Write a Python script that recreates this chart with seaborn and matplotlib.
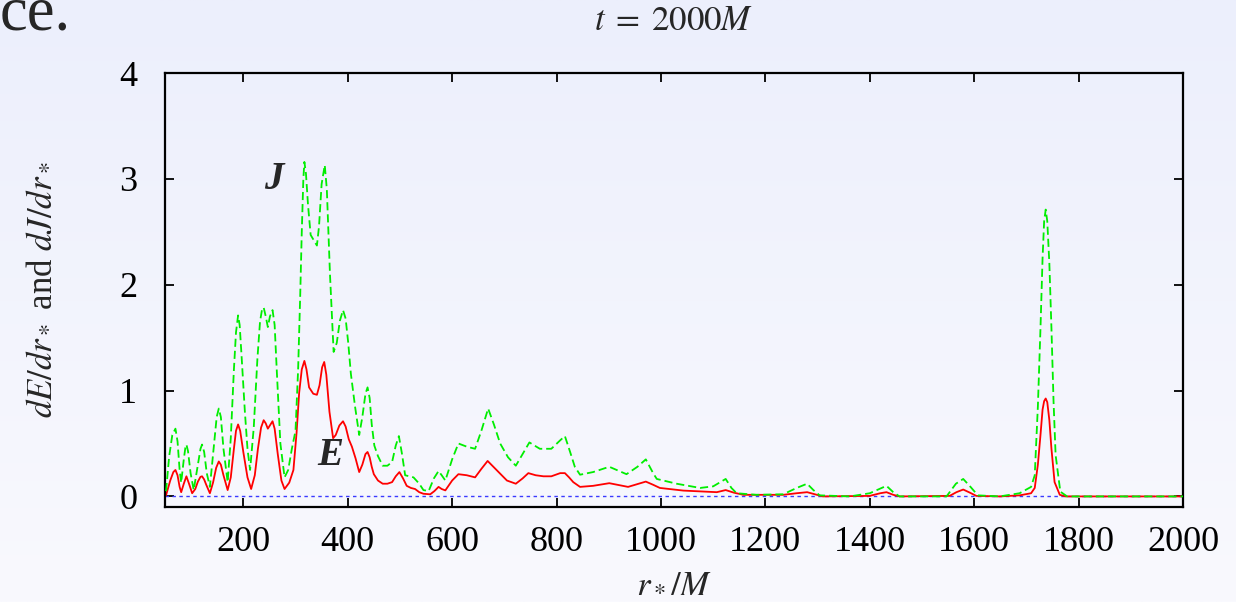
import numpy as np
import matplotlib
matplotlib.use("Agg")
import matplotlib.pyplot as plt
import seaborn as sns

# Energy flux dE/dr* sampled along r*/M
r_E = [52, 60, 66, 70, 74, 78, 81, 86, 91, 96, 102, 108, 113, 118, 121, 125, 129,
       136, 142, 148, 153, 157, 162, 170, 176, 182, 186, 190, 194, 200, 208, 215,
       222, 228, 234, 239, 243, 247, 252, 256, 260, 266, 273, 279, 288, 296, 302,
       307, 312, 317, 321, 326, 334, 341, 346, 351, 355, 359, 365, 372, 377, 384,
       391, 396, 402, 408, 415, 422, 428, 434, 438, 442, 446, 450, 458, 467, 476,
       485, 492, 499, 506, 513, 521, 529, 537, 545, 558, 566, 574, 580, 587, 600,
       612, 628, 644, 656, 668, 685, 705, 722, 735, 746, 760, 775, 790, 807, 816,
       824, 832, 845, 870, 901, 937, 971, 985, 998, 1043, 1107, 1124, 1140, 1158,
       1234, 1260, 1280, 1295, 1310, 1400, 1420, 1432, 1445, 1457, 1553, 1566, 1579,
       1592, 1604, 1649, 1687, 1709, 1716, 1722, 1727, 1731, 1734, 1737, 1740, 1744,
       1748, 1754, 1764, 1775, 2000]
dE = [0.01, 0.15, 0.23, 0.25, 0.20, 0.09, 0.04, 0.12, 0.19, 0.12, 0.03, 0.07, 0.14,
      0.185, 0.19, 0.16, 0.11, 0.03, 0.13, 0.27, 0.33, 0.30, 0.20, 0.06, 0.18, 0.45,
      0.62, 0.68, 0.62, 0.42, 0.18, 0.07, 0.20, 0.45, 0.65, 0.72, 0.69, 0.64, 0.68,
      0.71, 0.64, 0.40, 0.15, 0.07, 0.13, 0.25, 0.60, 0.98, 1.20, 1.28, 1.20, 1.03,
      0.97, 0.96, 1.05, 1.22, 1.27, 1.15, 0.80, 0.55, 0.58, 0.67, 0.71, 0.66, 0.54,
      0.47, 0.36, 0.23, 0.30, 0.40, 0.42, 0.37, 0.28, 0.21, 0.15, 0.12, 0.12, 0.135,
      0.19, 0.23, 0.17, 0.10, 0.08, 0.07, 0.04, 0.025, 0.02, 0.05, 0.09, 0.07, 0.057,
      0.15, 0.21, 0.20, 0.18, 0.26, 0.335, 0.25, 0.15, 0.12, 0.17, 0.22, 0.20, 0.19,
      0.19, 0.22, 0.22, 0.18, 0.135, 0.09, 0.10, 0.125, 0.09, 0.14, 0.11, 0.08, 0.055,
      0.04, 0.06, 0.035, 0.015, 0.015, 0.03, 0.04, 0.02, 0.0, 0.005, 0.03, 0.04, 0.015,
      0.0, 0.005, 0.04, 0.065, 0.035, 0.005, 0.0, 0.01, 0.03, 0.08, 0.30, 0.58, 0.82,
      0.90, 0.925, 0.89, 0.72, 0.45, 0.135, 0.015, 0.0, 0.0]

# Angular momentum flux dJ/dr* sampled along r*/M
r_J = [52, 58, 64, 70, 74, 78, 81, 86, 89, 91, 94, 99, 105, 113, 118, 121, 125, 130,
       136, 143, 149, 153, 157, 162, 170, 176, 182, 186, 190, 193, 197, 203, 208, 213,
       220, 227, 232, 236, 239, 243, 247, 251, 256, 260, 264, 271, 279, 286, 293, 300,
       305, 309, 312, 315, 317, 320, 324, 329, 335, 341, 345, 350, 356, 360, 366, 373,
       379, 385, 391, 396, 401, 406, 414, 422, 428, 434, 438, 442, 446, 451, 458, 467,
       476, 485, 492, 498, 504, 510, 526, 537, 545, 555, 565, 574, 580, 587, 600, 612,
       628, 644, 656, 669, 680, 692, 707, 722, 735, 748, 768, 790, 807, 816, 826, 835,
       845, 870, 901, 934, 955, 971, 985, 992, 1030, 1075, 1100, 1124, 1135, 1145,
       1183, 1234, 1260, 1280, 1292, 1304, 1362, 1400, 1432, 1445, 1457, 1547, 1565,
       1579, 1593, 1607, 1649, 1687, 1709, 1716, 1722, 1727, 1731, 1734, 1737, 1740,
       1744, 1748, 1752, 1756, 1765, 1778, 2000]
dJ = [0.05, 0.38, 0.58, 0.64, 0.52, 0.25, 0.13, 0.35, 0.46, 0.49, 0.43, 0.22, 0.06,
      0.30, 0.45, 0.49, 0.42, 0.22, 0.09, 0.45, 0.75, 0.83, 0.75, 0.45, 0.135, 0.55,
      1.20, 1.55, 1.71, 1.62, 1.30, 0.80, 0.45, 0.25, 0.65, 1.30, 1.65, 1.77, 1.785,
      1.70, 1.60, 1.70, 1.76, 1.62, 1.20, 0.50, 0.18, 0.25, 0.45, 0.62, 1.20, 1.90,
      2.50, 3.00, 3.16, 3.05, 2.75, 2.47, 2.42, 2.37, 2.55, 2.95, 3.13, 2.90, 2.10,
      1.365, 1.45, 1.66, 1.76, 1.68, 1.45, 1.16, 0.85, 0.58, 0.75, 0.97, 1.03, 0.93,
      0.68, 0.48, 0.38, 0.29, 0.29, 0.325, 0.48, 0.57, 0.40, 0.20, 0.18, 0.12, 0.06,
      0.05, 0.17, 0.24, 0.20, 0.15, 0.35, 0.50, 0.47, 0.45, 0.62, 0.83, 0.68, 0.50,
      0.37, 0.29, 0.40, 0.51, 0.45, 0.45, 0.53, 0.57, 0.42, 0.28, 0.205, 0.23, 0.28,
      0.21, 0.28, 0.35, 0.22, 0.165, 0.12, 0.08, 0.095, 0.165, 0.08, 0.03, 0.015,
      0.02, 0.08, 0.12, 0.06, 0.01, 0.0, 0.03, 0.10, 0.04, 0.0, 0.0, 0.12, 0.165,
      0.09, 0.01, 0.0, 0.03, 0.09, 0.20, 0.85, 1.59, 2.25, 2.60, 2.71, 2.60, 2.20,
      1.59, 0.90, 0.39, 0.045, 0.0, 0.0]

zero_level = 0.0
x_ticks = [200, 400, 600, 800, 1000, 1200, 1400, 1600, 1800, 2000]
y_ticks = [0, 1, 2, 3, 4]

sns.set_style("ticks")
plt.rcParams["font.family"] = ["Liberation Serif", "DejaVu Serif"]
plt.rcParams["mathtext.fontset"] = "stix"

W, H = 1236, 602
fig = plt.figure(figsize=(W / 100, H / 100), dpi=100)

# soft lavender page background
bg = fig.add_axes([0, 0, 1, 1], zorder=-1)
top_c = np.array([236, 239, 252]) / 255
bot_c = np.array([249, 249, 254]) / 255
t = np.linspace(0, 1, 256)[:, None, None]
grad = top_c[None, None, :] * (1 - t) + bot_c[None, None, :] * t
grad = np.repeat(grad, 4, axis=1)
bg.imshow(grad, aspect="auto", extent=[0, 1, 0, 1], origin="upper")
bg.set_axis_off()

left, right, top, bottom = 165 / W, 1183 / W, 73 / H, 507 / H
ax = fig.add_axes([left, 1 - bottom, right - left, bottom - top])
ax.set_facecolor("none")

ax.axhline(zero_level, color="#3a3aff", lw=1.0, ls=(0, (2.5, 2.5)), zorder=1)
sns.lineplot(x=r_E, y=dE, ax=ax, color="#ff0000", lw=1.3, estimator=None,
             sort=False, zorder=2)
sns.lineplot(x=r_J, y=dJ, ax=ax, color="#00ee00", lw=1.3, estimator=None,
             sort=False, zorder=3)
ax.lines[-1].set_dashes((4.5, 2.2))

ax.set_xlim(50, 2000)
ax.set_ylim(-0.1, 4)
ax.set_xticks(x_ticks)
ax.set_yticks(y_ticks)
ax.set_xlabel("")
ax.set_ylabel("")
for s in ax.spines.values():
    s.set_visible(True)
    s.set_linewidth(1.6)
    s.set_color("black")
ax.tick_params(direction="in", length=6.5, width=1.3, top=True, right=True,
               labelsize=26, colors="black")
ax.tick_params(axis="y", pad=20)
ax.tick_params(axis="x", pad=14)

ax.text(259, 2.99, "J", fontsize=28, fontweight="bold", fontstyle="italic",
        ha="center", va="center")
ax.text(366, 0.39, "E", fontsize=28, fontweight="bold", fontstyle="italic",
        ha="center", va="center")

fig.text(674 / W, 1 - 22 / H, r"$t\;=\;2000M$", ha="center", va="center",
         fontsize=25)
fig.text(40 / W, 1 - 290 / H, r"$dE/dr_*$ and $dJ/dr_*$", rotation=90,
         ha="center", va="center", fontsize=25)
fig.text(674 / W, 2 / H, r"$r_*/M$", ha="center", va="bottom", fontsize=25)
fig.text(0, 1 - 29 / H, "ce.", ha="left", va="baseline", fontsize=45)

fig.savefig("out.png", dpi=100)
